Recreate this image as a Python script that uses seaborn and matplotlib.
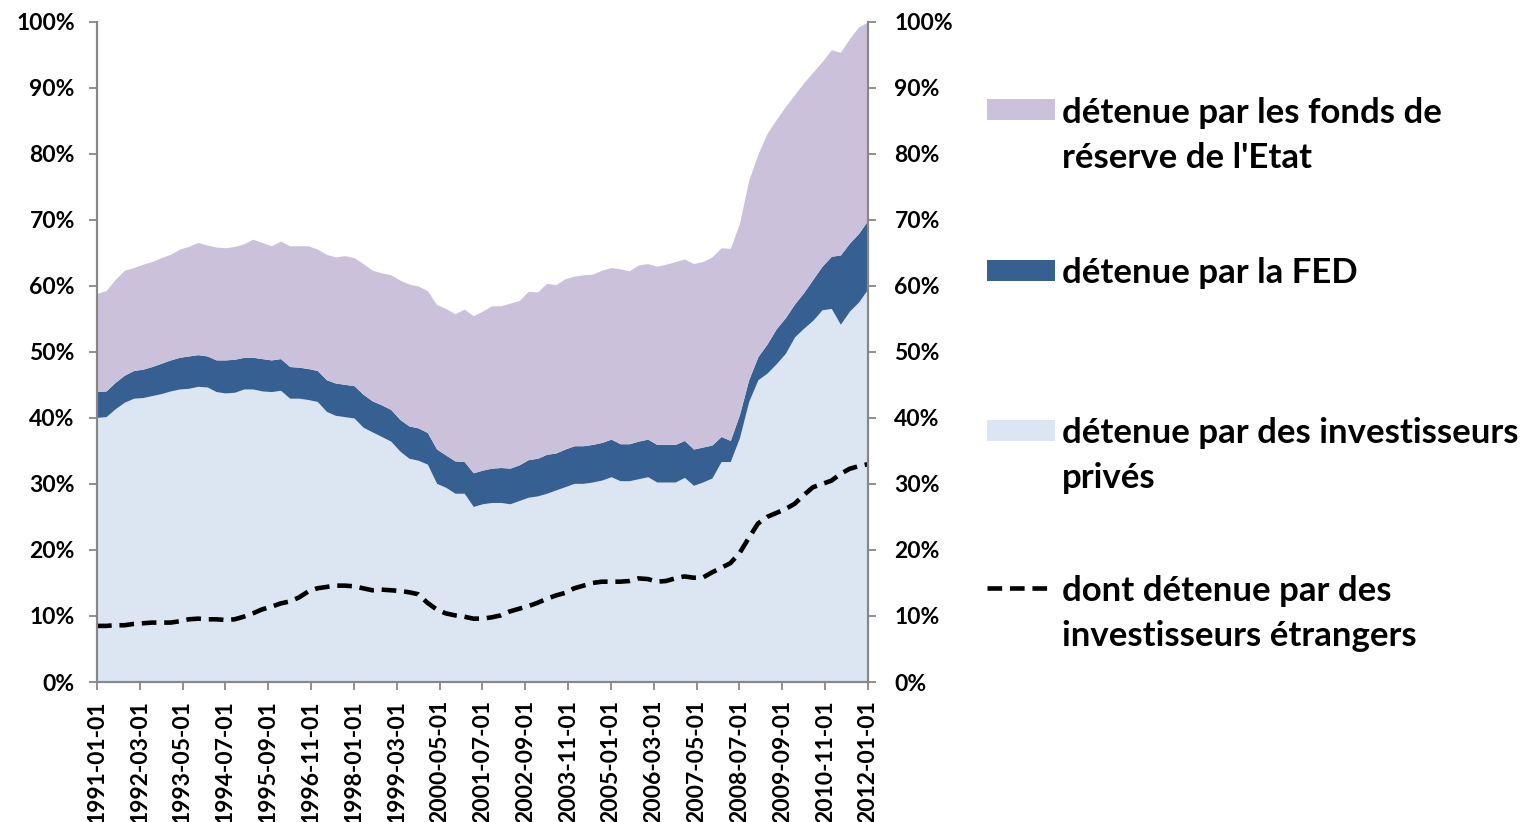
import numpy as np
import pandas as pd
import seaborn as sns
import matplotlib.pyplot as plt
import matplotlib.patches as mpatches
from matplotlib.lines import Line2D
from matplotlib.ticker import PercentFormatter

# quarterly shares of US public debt, in %
start_date = '1991-01-01'

private = [40.1, 40.2, 41.4, 42.4, 43.0, 43.1, 43.4, 43.7, 44.1, 44.4,
           44.5, 44.8, 44.7, 44.0, 43.8, 43.9, 44.4, 44.4, 44.1, 44.0,
           44.2, 43.0, 43.0, 42.8, 42.5, 41.0, 40.4, 40.2, 40.0, 38.6,
           37.9, 37.2, 36.5, 35.0, 33.9, 33.6, 33.0, 30.1, 29.5, 28.6,
           28.6, 26.6, 27.0, 27.2, 27.2, 27.0, 27.5, 28.0, 28.2, 28.6,
           29.1, 29.6, 30.1, 30.1, 30.3, 30.6, 31.1, 30.5, 30.5, 30.8,
           31.1, 30.3, 30.3, 30.3, 31.0, 29.8, 30.3, 30.9, 33.4, 33.4,
           37.0, 42.5, 45.8, 46.8, 48.2, 49.8, 52.3, 53.6, 54.8, 56.4,
           56.6, 54.2, 56.2, 57.6, 59.6]

# private + FED (cumulative level)
with_fed = [44.0, 44.1, 45.4, 46.5, 47.2, 47.4, 47.8, 48.3, 48.8, 49.2,
            49.4, 49.6, 49.4, 48.8, 48.8, 48.9, 49.2, 49.2, 49.0, 48.8,
            49.0, 47.8, 47.7, 47.5, 47.2, 45.8, 45.3, 45.1, 44.9, 43.6,
            42.6, 42.0, 41.3, 39.8, 38.8, 38.5, 37.8, 35.3, 34.4, 33.5,
            33.4, 31.7, 32.1, 32.4, 32.5, 32.4, 32.9, 33.7, 33.9, 34.5,
            34.7, 35.3, 35.8, 35.8, 36.0, 36.3, 36.8, 36.1, 36.1, 36.5,
            36.8, 36.0, 36.0, 36.0, 36.6, 35.3, 35.6, 35.9, 37.2, 36.6,
            40.5, 45.8, 49.3, 51.2, 53.5, 55.2, 57.3, 59.0, 61.0, 63.0,
            64.5, 64.7, 66.5, 68.0, 70.0]

# private + FED + reserve funds (total)
total = [58.9, 59.3, 61.0, 62.4, 62.8, 63.3, 63.7, 64.3, 64.8, 65.6,
         66.0, 66.6, 66.2, 65.9, 65.8, 66.0, 66.4, 67.1, 66.6, 66.1,
         66.8, 66.1, 66.1, 66.1, 65.6, 64.8, 64.4, 64.6, 64.3, 63.4,
         62.4, 62.0, 61.7, 60.9, 60.3, 60.0, 59.3, 57.2, 56.6, 55.8,
         56.5, 55.5, 56.2, 57.0, 57.0, 57.4, 57.8, 59.2, 59.1, 60.4,
         60.2, 61.1, 61.5, 61.7, 61.8, 62.4, 62.8, 62.6, 62.3, 63.2,
         63.4, 63.0, 63.3, 63.7, 64.1, 63.4, 63.7, 64.4, 65.8, 65.7,
         69.5, 76.0, 80.0, 83.1, 85.2, 87.2, 89.0, 90.8, 92.4, 94.0,
         95.8, 95.4, 97.5, 99.3, 100.0]

foreign = [8.5, 8.5, 8.6, 8.6, 8.8, 8.9, 9.0, 9.0, 9.0, 9.2,
           9.5, 9.6, 9.5, 9.5, 9.4, 9.5, 9.9, 10.4, 11.0, 11.4,
           11.9, 12.2, 12.8, 13.7, 14.2, 14.4, 14.6, 14.6, 14.5, 14.2,
           13.9, 14.0, 13.9, 13.8, 13.6, 13.3, 12.0, 11.0, 10.4, 10.1,
           9.9, 9.6, 9.6, 9.8, 10.1, 10.7, 11.1, 11.5, 12.0, 12.6,
           13.1, 13.5, 14.2, 14.6, 15.0, 15.2, 15.2, 15.2, 15.3, 15.7,
           15.6, 15.2, 15.3, 15.7, 16.0, 15.8, 15.8, 16.6, 17.3, 18.0,
           19.5, 21.8, 24.0, 25.0, 25.6, 26.2, 27.0, 28.3, 29.5, 30.0,
           30.5, 31.5, 32.3, 32.7, 33.0]

tick_labels = ['1991-01-01', '1992-03-01', '1993-05-01', '1994-07-01', '1995-09-01',
               '1996-11-01', '1998-01-01', '1999-03-01', '2000-05-01', '2001-07-01',
               '2002-09-01', '2003-11-01', '2005-01-01', '2006-03-01', '2007-05-01',
               '2008-07-01', '2009-09-01', '2010-11-01', '2012-01-01']

labels = ["détenue par les fonds de\nréserve de l'Etat",
          "détenue par la FED",
          "détenue par des investisseurs\nprivés",
          "dont détenue par des\ninvestisseurs étrangers"]

col_state = '#CCC1DA'
col_fed = '#376092'
col_private = '#DCE6F2'
grey = '#878787'

sns.set_style('white')
plt.rcParams['font.family'] = ['Lato', 'DejaVu Sans']
plt.rcParams['font.weight'] = 'bold'
plt.rcParams['text.color'] = 'black'

dates = pd.date_range(start_date, periods=len(private), freq='QS')
p = np.array(private) / 100
f = np.array(with_fed) / 100
t = np.array(total) / 100

fig = plt.figure(figsize=(15.24, 8.22), dpi=100)
ax = fig.add_axes([97 / 1524, 1 - 682 / 822, 771 / 1524, 660 / 822])

ax.stackplot(dates, p, f - p, t - f, colors=[col_private, col_fed, col_state],
             linewidth=0)
sns.lineplot(x=dates, y=np.array(foreign) / 100, ax=ax, color='black', lw=3.3)
ax.lines[-1].set_dashes([3.2, 1.7])

ax.set_xlim(dates[0], dates[-1])
ax.set_ylim(0, 1)
ax.set_yticks(np.arange(0, 1.01, 0.1))
ax.yaxis.set_major_formatter(PercentFormatter(1, decimals=0))
ax.set_xticks(pd.to_datetime(tick_labels))
ax.set_xticklabels(tick_labels, rotation=90)
ax.set_xlabel('')
ax.set_ylabel('')

ax2 = ax.twinx()
ax2.set_ylim(0, 1)
ax2.set_yticks(np.arange(0, 1.01, 0.1))
ax2.yaxis.set_major_formatter(PercentFormatter(1, decimals=0))

for a in (ax, ax2):
    for s in a.spines.values():
        s.set_color(grey)
        s.set_linewidth(1.5)
    a.spines['top'].set_visible(False)
    a.tick_params(colors='black', length=6, width=1.3, color=grey, labelsize=16.5,
                  direction='out')
ax.tick_params(axis='y', left=True, pad=10)
ax.tick_params(axis='x', bottom=True, pad=7)
ax2.tick_params(axis='y', right=True, pad=13)
for lab in ax.get_xticklabels() + ax.get_yticklabels() + ax2.get_yticklabels():
    lab.set_fontweight('bold')

# legend on the right, handles aligned with the first line of each label
W, H = 1524, 822
handles = [('patch', col_state, 110), ('patch', col_fed, 270),
           ('patch', col_private, 430), ('line', 'black', 588)]
for (kind, c, yc), lab in zip(handles, labels):
    if kind == 'patch':
        fig.add_artist(mpatches.Rectangle((987 / W, 1 - (yc + 10.5) / H), 68 / W, 21 / H,
                                          transform=fig.transFigure, color=c, lw=0))
    else:
        fig.add_artist(Line2D([987 / W, 1047 / W], [1 - yc / H] * 2, transform=fig.transFigure,
                              color=c, lw=3.3, dashes=[3.2, 1.7]))
    for i, line in enumerate(lab.split('\n')):
        fig.text(1062 / W, 1 - (yc + 45 * i) / H, line, fontsize=25, fontweight='bold',
                 color='black', va='center_baseline', ha='left')

plt.savefig('out.png', dpi=100)
